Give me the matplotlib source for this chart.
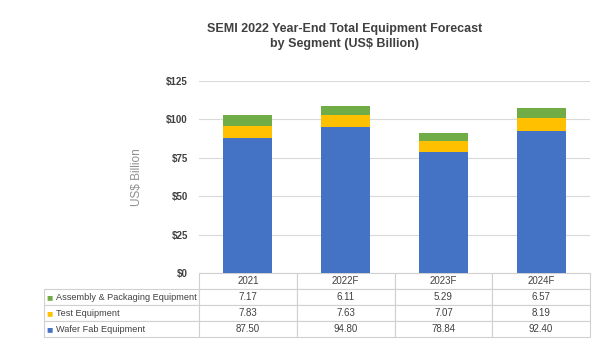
import matplotlib
matplotlib.use("Agg")
import matplotlib.pyplot as plt
import numpy as np

plt.rcParams['font.family'] = ['Liberation Sans', 'DejaVu Sans']

years = ['2021', '2022F', '2023F', '2024F']
series_names = ['Assembly & Packaging Equipment', 'Test Equipment', 'Wafer Fab Equipment']
assembly = [7.17, 6.11, 5.29, 6.57]
test = [7.83, 7.63, 7.07, 8.19]
wafer = [87.50, 94.80, 78.84, 92.40]
yticks = [0, 25, 50, 75, 100, 125]
ytick_labels = ['$0', '$25', '$50', '$75', '$100', '$125']

c_wafer = '#4472C4'
c_test = '#FFC000'
c_asm = '#70AD47'

fig = plt.figure(figsize=(6, 3.5), dpi=100)
W, H = 600, 350
ax_l, ax_r, ax_t, ax_b = 199, 590, 80.7, 273
ax = fig.add_axes([ax_l / W, 1 - ax_b / H, (ax_r - ax_l) / W, (ax_b - ax_t) / H])

x = np.arange(len(years))
bw = 0.5
ax.bar(x, wafer, bw, color=c_wafer, zorder=3)
ax.bar(x, test, bw, bottom=wafer, color=c_test, zorder=3)
bot2 = [a + b for a, b in zip(wafer, test)]
ax.bar(x, assembly, bw, bottom=bot2, color=c_asm, zorder=3)

ax.set_xlim(-0.5, len(years) - 0.5)
ax.set_ylim(0, 125)
ax.set_yticks(yticks)
ax.set_yticklabels(ytick_labels, fontsize=7, fontweight='bold', color='#404040')
ax.tick_params(axis='y', length=0, pad=8)
ax.set_xticks([])
ax.grid(axis='y', color='#D9D9D9', linewidth=0.8, zorder=0)
for s in ax.spines.values():
    s.set_visible(False)

ax.set_ylabel('US$ Billion', fontsize=8.5, color='#909090', labelpad=17)

# table
rows = [assembly, test, wafer]
cell_text = [[''] + [f'{v:.2f}' for v in r] for r in rows]
lab_w = (ax_l - 44) / (ax_r - ax_l)
col_w = 1.0 / len(years)
tbl_h = (337 - 273) / (ax_b - ax_t)
tbl = ax.table(cellText=cell_text, colLabels=[''] + years,
               colWidths=[lab_w] + [col_w] * len(years),
               bbox=[-lab_w, -tbl_h, 1 + lab_w, tbl_h], cellLoc='center')
tbl.auto_set_font_size(False)
tbl.set_fontsize(7)
for (r, c), cell in tbl.get_celld().items():
    cell.set_edgecolor('#D0D0D0')
    cell.set_linewidth(0.8)
    cell.get_text().set_color('#404040')
    if r == 0 and c == 0:
        cell.visible_edges = ''

colors = [c_asm, c_test, c_wafer]
for i, (col, name) in enumerate(zip(colors, series_names)):
    yc = -tbl_h * (i + 1.5) / 4
    ax.text(-lab_w + 0.007, yc, '■', color=col, fontsize=7.5, va='center', ha='left',
            transform=ax.transAxes)
    ax.text(-lab_w + 0.031, yc, name, color='#404040', fontsize=6.6, va='center', ha='left',
            transform=ax.transAxes)

fig.text(345 / W, 1 - 29 / H, 'SEMI 2022 Year-End Total Equipment Forecast', ha='center', va='center',
         fontsize=9, fontweight='bold', color='#404040')
fig.text(345 / W, 1 - 44 / H, 'by Segment (US$ Billion)', ha='center', va='center',
         fontsize=9, fontweight='bold', color='#404040')

fig.savefig('out.png', dpi=100)
